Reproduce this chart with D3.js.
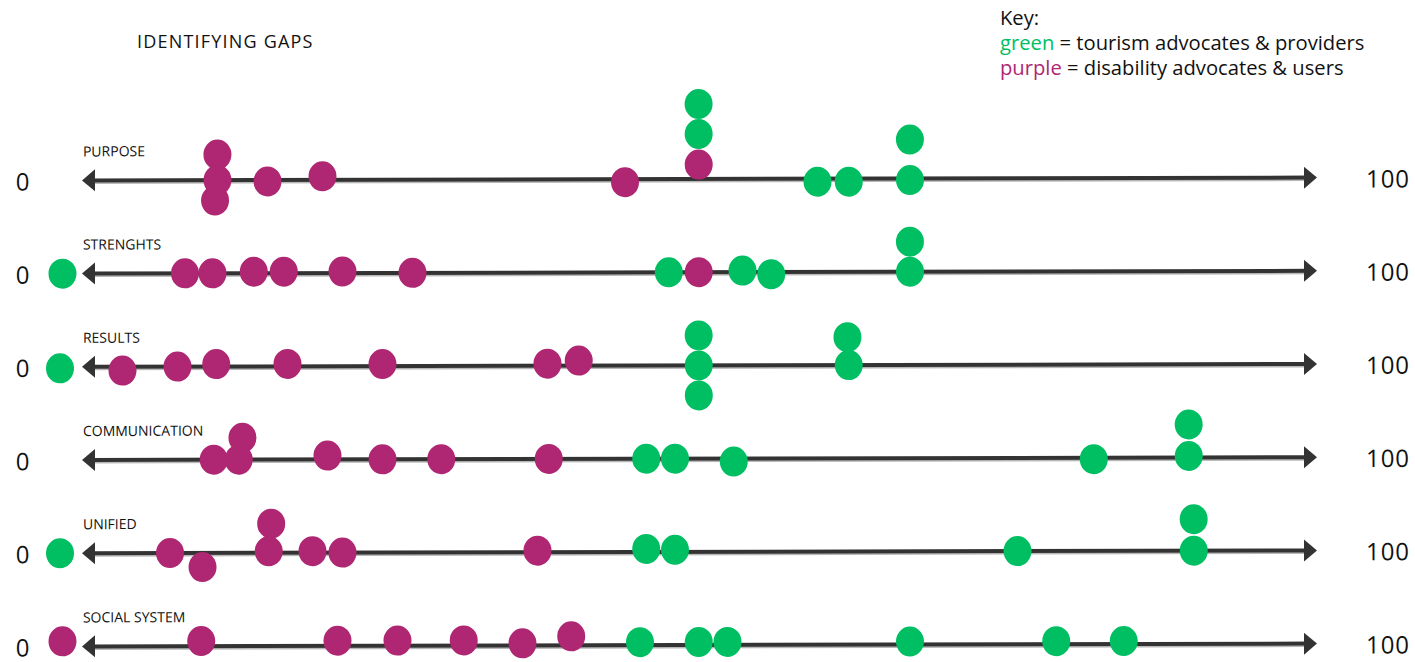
<!DOCTYPE html>
<html>
<head>
<meta charset="utf-8">
<script src="https://cdn.jsdelivr.net/npm/d3@7"></script>
<style>
    body { margin: 0; background: #ffffff; }
    svg { display: block; font-family: "Open Sans", sans-serif; }
</style>
</head>
<body>
<div class="chart"></div>
<script>
// rows of the chart, top to bottom (spelling kept as on the slide)
var rows = ["PURPOSE", "STRENGHTS", "RESULTS", "COMMUNICATION", "UNIFIED", "SOCIAL SYSTEM"];

// green = tourism advocates & providers, score 0-100 per answer
var greenScores = [
    [51.1, 51.1, 60.6, 63.1, 68.0, 68.0],
    [0.2, 48.7, 54.6, 56.9, 68.0, 68.0],
    [0, 51.1, 51.1, 51.1, 63.0, 63.1],
    [46.9, 49.2, 53.9, 82.7, 90.3, 90.3],
    [0, 46.9, 49.2, 76.6, 90.7, 90.7],
    [46.4, 51.1, 53.4, 68.0, 79.7, 85.1]
];
// stack level of each green answer (dots piled above + / below - the line)
var greenStack = [
    [1.5, 2.5, -0.1, -0.1, 1.3, -0.05],
    [0, 0, 0.05, -0.07, 1.0, 0],
    [-0.05, 1.0, 0, -1.0, 0.93, 0],
    [0, 0, -0.1, -0.05, 1.1, 0.05],
    [0, 0.1, 0.07, 0, 1.05, 0],
    [0.1, 0.1, 0.1, 0.1, 0.1, 0.1]
];

// purple = disability advocates & users
var purpleScores = [
    [12.6, 12.4, 12.6, 16.6, 21.0, 45.2, 51.1],
    [10.0, 12.2, 15.5, 17.9, 22.6, 28.2, 51.1],
    [5.0, 9.4, 12.5, 18.2, 25.8, 39.0, 41.5],
    [12.3, 14.6, 14.3, 21.4, 25.8, 30.5, 39.1],
    [8.8, 11.4, 16.9, 16.7, 20.2, 22.6, 38.2],
    [0.2, 11.3, 22.2, 27.0, 32.3, 37.0, 40.9]
];
var purpleStack = [
    [0.85, -0.68, 0, -0.05, 0.12, -0.1, 0.48],
    [0, 0, 0.05, 0.05, 0.05, 0, 0],
    [-0.13, 0, 0.08, 0.08, 0.07, 0.07, 0.17],
    [0, 0.73, 0, 0.13, 0, 0, 0],
    [0, -0.47, 0.97, 0.05, 0.05, 0, 0.05],
    [0.17, 0.17, 0.17, 0.17, 0.17, 0.07, 0.3]
];

// end labels of every line
var axisEnds = ["0", "100"];

var svgWidth = 1415;
var svgHeight = 662;

var green = "#00bf63";
var purple = "#af2672";

var svg = d3.select(".chart")
    .append("svg")
    .attr("width", svgWidth)
    .attr("height", svgHeight);

// scales
var xScale = d3.scaleLinear()
    .domain([0, 100])
    .range([60, 1310]);

var yScale = d3.scalePoint()
    .domain(rows)
    .range([179, 645]);

var stackStep = 30;

// title
svg.append("text")
    .attr("x", 137)
    .attr("y", 48)
    .style("font-size", "18px")
    .style("letter-spacing", "1.2px")
    .attr("fill", "#111")
    .text("IDENTIFYING GAPS");

// key
var key = svg.append("g")
    .attr("transform", "translate(1000, 0)")
    .style("font-size", "20.2px");

key.append("text").attr("y", 25).attr("fill", "#111").text("Key:");

var keyGreen = key.append("text").attr("y", 49.5);
keyGreen.append("tspan").attr("fill", green).text("green");
keyGreen.append("tspan").attr("fill", "#111").text(" = tourism advocates & providers");

var keyPurple = key.append("text").attr("y", 74.5);
keyPurple.append("tspan").attr("fill", purple).text("purple");
keyPurple.append("tspan").attr("fill", "#111").text(" = disability advocates & users");

// one group per row, slightly tilted like the hand-drawn lines
var rowGroups = svg.selectAll(".row")
    .data(rows)
    .enter()
    .append("g")
    .attr("class", "row")
    .attr("transform", d => `translate(0, ${yScale(d)}) rotate(-0.13, 700, 0)`);

var lineStart = xScale(0) + 22;
var lineEnd = xScale(100) + 7;

// light shadow under the line
rowGroups.append("line")
    .attr("x1", lineStart + 10)
    .attr("x2", lineEnd - 10)
    .attr("y1", 2.5)
    .attr("y2", 2.5)
    .attr("stroke", "#b8b8b8")
    .attr("stroke-width", 2);

rowGroups.append("line")
    .attr("x1", lineStart + 8)
    .attr("x2", lineEnd - 8)
    .attr("y1", 0)
    .attr("y2", 0)
    .attr("stroke", "#333")
    .attr("stroke-width", 4);

// arrow heads
rowGroups.append("path")
    .attr("d", `M${lineStart},0 L${lineStart + 13},-11 L${lineStart + 13},11 Z`)
    .attr("fill", "#333");

rowGroups.append("path")
    .attr("d", `M${lineEnd},0 L${lineEnd - 13},-11 L${lineEnd - 13},11 Z`)
    .attr("fill", "#333");

// row names
rowGroups.append("text")
    .attr("x", 83)
    .attr("y", -24)
    .style("font-size", "14px")
    .attr("fill", "#111")
    .text(d => d);

// 0 and 100 at the ends
rowGroups.append("text")
    .attr("x", 23)
    .attr("y", 10)
    .attr("text-anchor", "middle")
    .style("font-size", "24px")
    .style("letter-spacing", "1px")
    .attr("fill", "#111")
    .text(axisEnds[0]);

rowGroups.append("text")
    .attr("x", 1388)
    .attr("y", 10)
    .attr("text-anchor", "middle")
    .style("font-size", "24px")
    .style("letter-spacing", "1px")
    .attr("fill", "#111")
    .text(axisEnds[1]);

// dots: green first, then purple
function drawDots(scores, stacks, colour) {
    rowGroups.each(function (rowName, i) {
        var dots = scores[i].map((v, j) => ({ value: v, stack: stacks[i][j] }));
        d3.select(this).selectAll(null)
            .data(dots)
            .enter()
            .append("ellipse")
            .attr("cx", d => xScale(d.value))
            .attr("cy", d => -d.stack * stackStep)
            .attr("rx", 14)
            .attr("ry", 15)
            .attr("fill", colour);
    });
}

drawDots(greenScores, greenStack, green);
drawDots(purpleScores, purpleStack, purple);
</script>
</body>
</html>
